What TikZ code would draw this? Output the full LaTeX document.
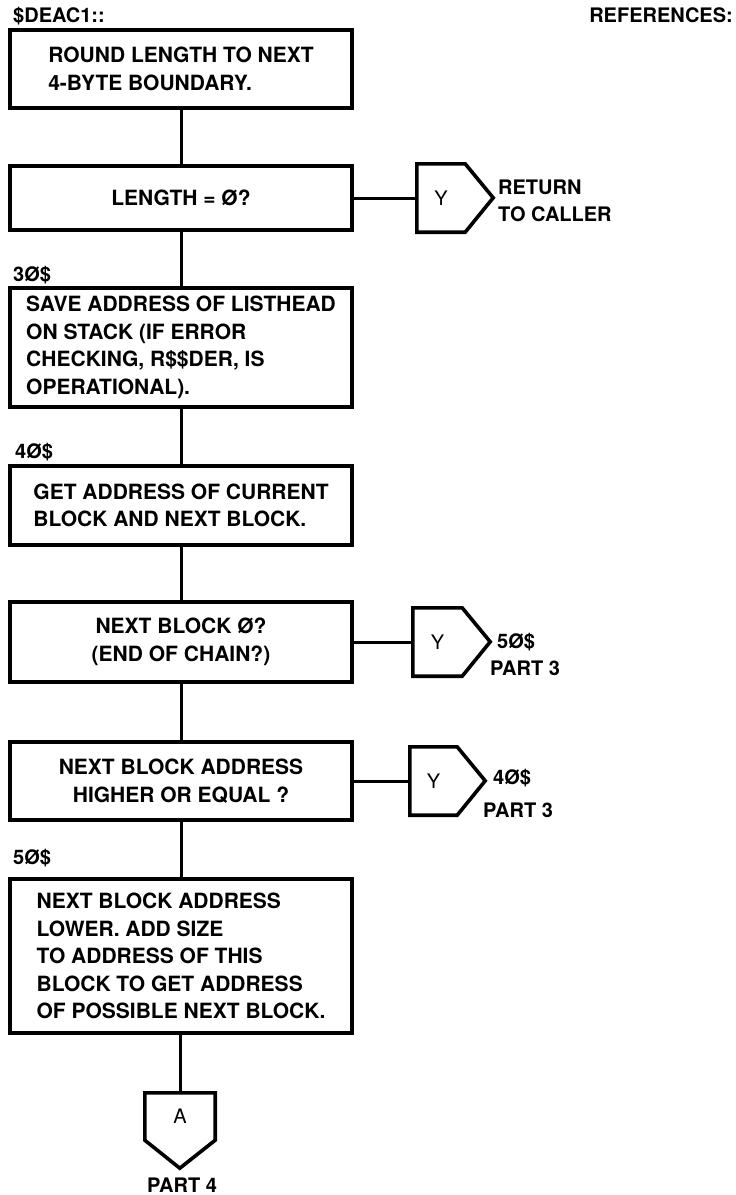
\documentclass[tikz,border=0pt]{standalone}
\usepackage{fontspec}
\setmainfont{TeX Gyre Heros}

\tikzset{
	procbox/.style={draw, line width=3.6pt, minimum width=342pt, align=left, inner sep=0pt, font=\fontsize{21}{27.5}\selectfont\bfseries},
	offpage/.style={inner sep=0pt, font=\fontsize{20}{24}\selectfont},
	tag/.style={anchor=west, inner sep=0pt, align=left, font=\fontsize{20}{27}\selectfont\bfseries},
	flow/.style={line width=3pt},
	outline/.style={line width=3.6pt, line join=miter}
}

\begin{document}
\begin{tikzpicture}[x=1pt, y=-1pt]
	\useasboundingbox (0,0) rectangle (736,1195);
	\node[tag] (deac) at (13,16) {\$DEAC1::};
	\node[tag, anchor=east] (refs) at (733,15) {REFERENCES:};

	\node[procbox, minimum height=78pt] (round) at (181,69) {ROUND LENGTH TO NEXT\\4-BYTE BOUNDARY.};
	\node[procbox, minimum height=64pt, align=center] (len) at (181,198) {LENGTH = Ø?};
	\node[offpage, minimum width=48pt, minimum height=68pt] (yret) at (441,198) {Y};
	\node[tag] (ret) at (498,201) {RETURN\\TO CALLER};

	\node[tag] (l30) at (13,275) {3Ø\$};
	\node[procbox, minimum height=119pt] (save) at (181,347.5) {SAVE ADDRESS OF LISTHEAD\\ON STACK (IF ERROR\\CHECKING, R\$\$DER, IS\\OPERATIONAL).};

	\node[tag] (l40) at (15,452) {4Ø\$};
	\node[procbox, minimum height=79pt] (getad) at (181,505.5) {GET ADDRESS OF CURRENT\\BLOCK AND NEXT BLOCK.};

	\node[procbox, minimum height=80pt, align=center] (nxt) at (181,642) {NEXT BLOCK Ø?\\(END OF CHAIN?)};
	\node[offpage, minimum width=49pt, minimum height=68pt] (yend) at (437.5,642) {Y};
	\node[tag] (to50) at (497,642) {5Ø\$};
	\node[tag] (p3a) at (490,668) {PART 3};

	\node[procbox, minimum height=78pt, align=center] (hi) at (181,781) {NEXT BLOCK ADDRESS\\HIGHER OR EQUAL ?};
	\node[offpage, minimum width=47pt, minimum height=68pt] (yhi) at (433.5,781) {Y};
	\node[tag] (to40) at (493,778) {4Ø\$};
	\node[tag] (p3b) at (483,810) {PART 3};

	\node[tag] (l50) at (13,858) {5Ø\$};
	\node[procbox, minimum height=154pt] (low) at (181,956) {NEXT BLOCK ADDRESS\\LOWER. ADD SIZE\\TO ADDRESS OF THIS\\BLOCK TO GET ADDRESS\\OF POSSIBLE NEXT BLOCK.};

	\node[offpage, minimum width=70pt, minimum height=47pt] (pa) at (180,1116.5) {A};
	\node[tag, anchor=center] (p4) at (182,1185) {PART 4};

	\draw[outline] (yret.north west) -- (yret.north east) -- ++(28,34) -- (yret.south east) -- (yret.south west) -- cycle;
	\draw[outline] (yend.north west) -- (yend.north east) -- ++(28,34) -- (yend.south east) -- (yend.south west) -- cycle;
	\draw[outline] (yhi.north west) -- (yhi.north east) -- ++(28,34) -- (yhi.south east) -- (yhi.south west) -- cycle;
	\draw[outline] (pa.north west) -- (pa.south west) -- ++(35,28) -- (pa.south east) -- (pa.north east) -- cycle;

	\draw[flow] (round) -- (len);
	\draw[flow] (len) -- (yret.west);
	\draw[flow] (len) -- (save);
	\draw[flow] (save) -- (getad);
	\draw[flow] (getad) -- (nxt);
	\draw[flow] (nxt) -- (yend.west);
	\draw[flow] (nxt) -- (hi);
	\draw[flow] (hi) -- (yhi.west);
	\draw[flow] (hi) -- (low);
	\draw[flow] (low.south -| pa.north) -- (pa.north);
\end{tikzpicture}
\end{document}
